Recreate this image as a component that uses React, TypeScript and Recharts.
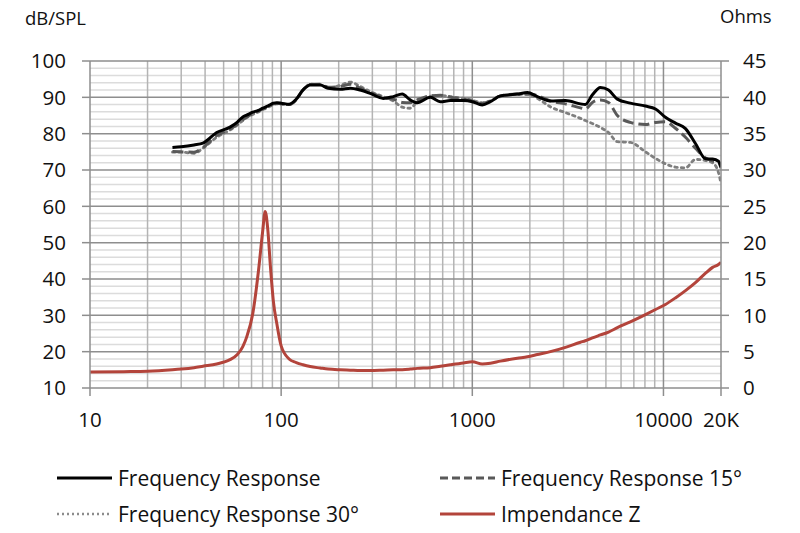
import React from 'react';
import { LineChart, Line, XAxis, YAxis, ReferenceLine } from 'recharts';

// frequency grid (Hz) shared by all series
const freqHz = [
  10, 15, 20, 27, 30, 35, 39, 46, 54, 59, 63, 66, 71, 76, 80, 82.5, 85, 88, 91, 95,
  100, 110, 120, 130, 142, 160, 176, 204, 230, 259, 292, 342, 386, 430, 473, 515,
  603, 680, 767, 898, 1000, 1127, 1243, 1402, 1720, 1941, 2190, 2560, 3070, 3680,
  3900, 4250, 4680, 5160, 5740, 6710, 8050, 9090, 10240, 11550, 13040, 14700,
  16600, 18070, 19400, 20000,
];

const spl0 = [
  null, null, null, 76.2, 76.4, 76.9, 77.4, 80.3, 81.8, 83.2, 84.6, 85.1, 85.9, 86.4, 87.0, 87.3, 87.6, 88.0, 88.4, 88.5,
  88.4, 88.1, 89.5, 92.0, 93.4, 93.4, 92.5, 92.2, 92.5, 92.0, 91.1, 89.7, 90.2, 90.9, 89.3, 88.5,
  90.0, 88.8, 89.1, 89.1, 88.8, 87.9, 88.8, 90.4, 90.9, 91.3, 90.2, 89.0, 89.1, 88.2,
  88.0, 90.7, 92.7, 92.0, 89.5, 88.4, 87.6, 86.8, 84.5, 82.9, 81.4, 77.3,
  73.1, 73.0, 72.4, 70.8,
];

const spl15 = [
  null, null, null, 75.1, 75.0, 74.9, 76.2, 79.5, 81.3, 82.6, 83.8, 84.6, 85.5, 86.2, 86.8, 87.1, 87.3, 87.8, 88.2, 88.4,
  88.2, 88.0, 89.4, 92.0, 93.5, 93.6, 92.8, 93.0, 93.6, 92.5, 91.3, 90.0, 89.5, 88.6, 88.5, 89.3,
  90.4, 90.6, 90.0, 89.5, 89.0, 88.3, 89.0, 90.4, 90.9, 90.9, 90.5, 89.0, 88.2, 87.1,
  86.8, 88.6, 89.3, 88.6, 85.0, 83.1, 82.5, 83.1, 83.3, 81.5, 79.0, 76.0,
  73.3, 72.5, 72.2, 70.5,
];

const spl30 = [
  null, null, null, 74.9, 74.9, 74.6, 76.0, 79.0, 81.0, 82.4, 83.6, 84.4, 85.3, 86.0, 86.6, 86.9, 87.2, 87.6, 88.0, 88.2,
  88.0, 88.0, 89.3, 91.9, 93.6, 93.5, 92.6, 93.3, 94.2, 93.0, 91.6, 90.2, 89.0, 87.3, 87.0, 88.8,
  90.3, 90.5, 90.2, 89.7, 89.2, 88.5, 89.0, 90.2, 90.8, 90.8, 89.7, 87.4, 85.8, 84.2,
  83.6, 82.8, 81.7, 80.3, 77.8, 77.6, 75.0, 73.2, 71.7, 70.8, 70.6, 72.9,
  72.6, 72.0, 69.3, 66.3,
];

const impedanceOhm = [
  2.2, 2.25, 2.3, 2.5, 2.6, 2.8, 3.0, 3.3, 3.9, 4.6, 5.7, 7.0, 10.2, 16.0, 21.5, 24.3, 22.0, 16.5, 12.0, 8.8,
  5.8, 4.0, 3.5, 3.2, 2.95, 2.75, 2.6, 2.5, 2.45, 2.4, 2.4, 2.45, 2.5, 2.52, 2.6, 2.7,
  2.8, 3.0, 3.2, 3.45, 3.6, 3.3, 3.4, 3.7, 4.1, 4.3, 4.6, 5.0, 5.6, 6.3,
  6.5, 6.9, 7.3, 7.7, 8.3, 9.1, 10.1, 10.8, 11.5, 12.4, 13.4, 14.5,
  15.8, 16.6, 17.0, 17.3,
];

const xTicks = [10, 100, 1000, 10000, 20000];
const dbTicks = [10, 20, 30, 40, 50, 60, 70, 80, 90, 100];
const ohmTicks = [0, 5, 10, 15, 20, 25, 30, 35, 40, 45];
const minorFreqs = [
  20, 30, 40, 50, 60, 70, 80, 90,
  200, 300, 400, 500, 600, 700, 800, 900,
  2000, 3000, 4000, 5000, 6000, 7000, 8000, 9000,
];
const decadeFreqs = [100, 1000, 10000];
const minorDb = [
  12, 14, 16, 18, 22, 24, 26, 28, 32, 34, 36, 38, 42, 44, 46, 48,
  52, 54, 56, 58, 62, 64, 66, 68, 72, 74, 76, 78, 82, 84, 86, 88, 92, 94, 96, 98,
];
const majorDb = [20, 30, 40, 50, 60, 70, 80, 90, 100];

const data = freqHz.map((f, i) => ({
  f,
  fr: spl0[i],
  fr15: spl15[i],
  fr30: spl30[i],
  z: impedanceOhm[i],
}));

const FONT = '"Open Sans", sans-serif';
const INK = '#111';
const tickStyle = { fontFamily: FONT, fontSize: 20.5, fill: INK };
const RED = '#b3443b';

const legendItems = [
  { label: 'Frequency Response', x: 57, y: 478, stroke: '#000', dash: undefined, w: 3 },
  { label: 'Frequency Response 15°', x: 440, y: 478, stroke: '#595959', dash: '8 4', w: 3 },
  { label: 'Frequency Response 30°', x: 57, y: 514, stroke: '#8c8c8c', dash: '2 3', w: 2.5 },
  { label: 'Impendance Z', x: 440, y: 514, stroke: RED, dash: undefined, w: 3 },
];

export default function App() {
  return (
    <div style={{ position: 'absolute', left: 0, top: 0, width: 800, height: 533, background: '#fff' }}>
      <LineChart
        width={800}
        height={533}
        data={data}
        margin={{ top: 61, right: 0, left: 0, bottom: 105 }}
      >
        {minorDb.map((v) => (
          <ReferenceLine key={'hd' + v} yAxisId="left" y={v} stroke="#dcdcdc" strokeWidth={1.5} />
        ))}
        {minorFreqs.map((f) => (
          <ReferenceLine key={'vf' + f} yAxisId="left" x={f} stroke="#b4b4b4" strokeWidth={1.5} />
        ))}
        {majorDb.map((v) => (
          <ReferenceLine key={'hm' + v} yAxisId="left" y={v} stroke="#8e8e8e" strokeWidth={1.5} />
        ))}
        {decadeFreqs.map((f) => (
          <ReferenceLine key={'vd' + f} yAxisId="left" x={f} stroke="#8e8e8e" strokeWidth={1.5} />
        ))}
        <XAxis
          dataKey="f"
          type="number"
          scale="log"
          domain={[10, 20000]}
          ticks={xTicks}
          allowDataOverflow
          height={40}
          tickSize={8}
          tickMargin={16}
          tick={tickStyle}
          stroke="#8e8e8e"
          strokeWidth={1.5}
          tickFormatter={(v: number) => (v === 20000 ? '20K' : String(v))}
        />
        <YAxis
          yAxisId="left"
          domain={[10, 100]}
          ticks={dbTicks}
          width={90}
          tickSize={8}
          tickMargin={16}
          tick={tickStyle}
          stroke="#8e8e8e"
          strokeWidth={1.5}
          allowDataOverflow
        />
        <YAxis
          yAxisId="right"
          orientation="right"
          domain={[0, 45]}
          ticks={ohmTicks}
          width={79}
          tickSize={8}
          tickMargin={14}
          tick={tickStyle}
          stroke="#8e8e8e"
          strokeWidth={1.5}
          allowDataOverflow
        />
        <Line
          yAxisId="right"
          dataKey="z"
          type="monotone"
          stroke={RED}
          strokeWidth={3}
          dot={false}
          isAnimationActive={false}
        />
        <Line
          yAxisId="left"
          dataKey="fr30"
          type="monotone"
          stroke="#7f7f7f"
          strokeWidth={2.8}
          strokeDasharray="2.5 4"
          strokeLinecap="round"
          dot={false}
          isAnimationActive={false}
        />
        <Line
          yAxisId="left"
          dataKey="fr15"
          type="monotone"
          stroke="#595959"
          strokeWidth={3}
          strokeDasharray="11 5"
          dot={false}
          isAnimationActive={false}
        />
        <Line
          yAxisId="left"
          dataKey="fr"
          type="monotone"
          stroke="#000"
          strokeWidth={3}
          dot={false}
          isAnimationActive={false}
        />
      </LineChart>
      <svg
        width={800}
        height={533}
        style={{ position: 'absolute', left: 0, top: 0, pointerEvents: 'none' }}
      >
        <text x={25} y={25} fontFamily={FONT} fontSize={18.5} fill={INK}>dB/SPL</text>
        <text x={720} y={23} fontFamily={FONT} fontSize={18.5} fill={INK}>Ohms</text>
        {legendItems.map((it) => (
          <g key={it.label}>
            <line
              x1={it.x}
              x2={it.x + 55}
              y1={it.y}
              y2={it.y}
              stroke={it.stroke}
              strokeWidth={it.w}
              strokeDasharray={it.dash}
            />
            <text x={it.x + 61} y={it.y + 8} fontFamily={FONT} fontSize={21} fill={INK}>
              {it.label}
            </text>
          </g>
        ))}
      </svg>
    </div>
  );
}
